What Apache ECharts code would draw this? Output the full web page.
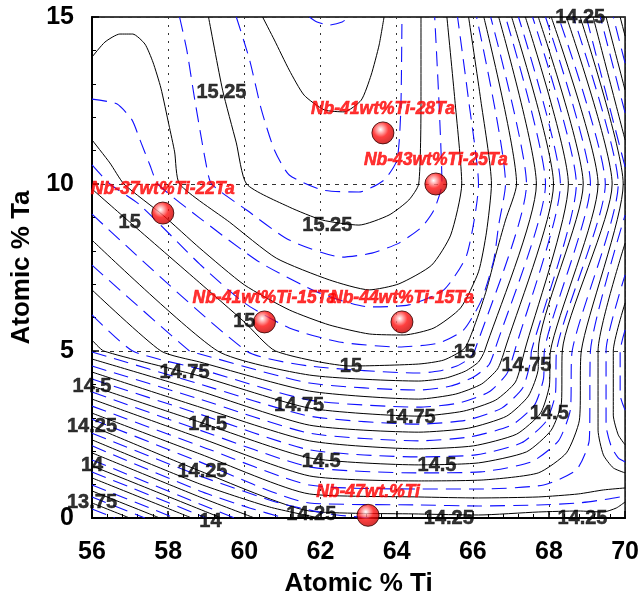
<!DOCTYPE html>
<html><head><meta charset="utf-8">
<script src="https://cdn.jsdelivr.net/npm/echarts@6/dist/echarts.min.js"></script>
<style>html,body{margin:0;padding:0;background:#fff}#c{width:642px;height:603px}</style>
</head><body><div id="c"></div>
<script>
// ---- axes ----
const xRange = [56, 70];
const yRange = [0, 15];

// ---- contour lines: [Atomic % Ti, Atomic % Ta] ----
// solid black contours
const blackInner = [[60.48,15],[60.79,14.31],[61.18,13.41],[61.57,12.66],[62.10,12.22],[62.62,12.16],[63.07,12.51],[63.33,13.26],[63.54,14.16],[63.67,15]];
const black00 = [[59.06,15],[59.43,12.81],[59.79,11.23],[60.06,10.0],[61.18,9.31],[62.05,8.92],[63.01,8.77],[63.80,9.07],[64.32,9.52],[64.58,10.0],[64.64,12.51],[64.64,15]];
const black02 = [[56,13.80],[56.34,14.25],[56.73,14.49],[57.07,14.49],[57.39,14.19],[57.60,13.65],[57.81,12.87],[58.02,11.77],[58.17,10.96],[58.30,10],[59.61,8.86],[60.84,7.78],[62.23,7.13],[63.28,6.83],[64.06,7.01],[64.92,7.57],[65.42,8.47],[65.71,10],[65.53,12.51],[65.32,15]];
const black04 = [[56,11.32],[56.47,10.63],[56.84,10],[57.86,9.07],[58.83,8.08],[60.00,6.98],[61.18,6.23],[62.23,5.78],[63.28,5.51],[64.19,5.48],[64.98,5.69],[65.68,6.29],[66.15,7.37],[66.36,8.56],[66.49,10],[66.21,12.51],[65.89,15]];
const black06 = [[56,9.85],[56.99,8.86],[58.83,7.04],[60.00,5.87],[60.82,5.0],[62.80,4.55],[64.58,4.61],[65.24,4.73],[65.79,5.09],[66.10,5.93],[66.36,6.83],[66.60,7.87],[66.86,8.92],[67.15,10],[66.29,15]];
const black08 = [[56,8.32],[59.30,5],[61.71,4.28],[64.58,4.10],[65.29,4.19],[65.81,4.40],[66.15,4.67],[66.31,5],[67.67,10],[66.68,15]];
const black10 = [[56,6.83],[57.81,5],[58.83,4.67],[61.71,3.80],[64.58,3.56],[65.55,3.71],[66.23,4.01],[66.65,4.46],[66.83,5],[68.12,10],[67.02,15]];
const black12 = [[56,5.33],[56.31,5],[58.83,4.25],[61.71,3.29],[64.58,3.05],[65.76,3.20],[66.60,3.53],[67.12,4.07],[67.36,5],[68.51,10],[67.38,15]];
const black14 = [[56,4.76],[58.83,3.80],[61.71,2.78],[64.58,2.57],[65.89,2.69],[66.89,3.05],[67.46,3.65],[67.72,4.49],[67.72,5],[68.90,10],[67.72,15]];
const black16 = [[56,4.37],[58.83,3.32],[61.71,2.31],[64.58,2.07],[66.02,2.16],[67.15,2.51],[67.78,3.14],[68.01,3.95],[68.04,5],[69.29,10],[68.06,15]];
const black18 = [[56,3.95],[58.83,2.87],[61.71,1.80],[64.58,1.59],[66.15,1.65],[67.41,1.98],[68.06,2.63],[68.33,3.47],[68.35,5],[69.66,10],[68.46,15]];
const black20 = [[56,3.56],[58.83,2.40],[61.71,1.26],[64.58,1.11],[66.29,1.14],[67.72,1.35],[68.46,1.95],[68.80,2.93],[68.85,5],[69.95,10],[68.82,15]];
const black22a = [[56,3.14],[58.83,1.92],[61.71,0.72],[64.58,0.63],[66.15,0.60],[67.72,0.63],[68.77,0.72],[69.43,0.84],[70,0.90]];
const black22b = [[70,1.35],[69.69,1.50],[69.43,1.89],[69.29,2.63],[69.29,5],[70,8.23]];
const black22c = [[70,11.32],[69.16,15]];
const black24a = [[56,2.75],[58.83,1.41],[61.71,0.21],[64.58,0.12],[66.15,0.09],[67.72,0.18],[68.77,0.21],[69.43,0.18],[69.77,0.30],[70,0.48]];
const black24b = [[70,2.19],[69.82,2.49],[69.69,3.08],[69.69,5],[70,6.44]];
const black24c = [[70,12.81],[69.50,15]];
const black26a = [[56,2.34],[58.83,1.02],[60.66,0.33],[61.97,0]];
const black26c = [[70,14.43],[69.87,15]];
const black28 = [[56,1.95],[58.83,0.63],[60.27,0]];
const black30 = [[56,1.56],[59.40,0]];
const black32 = [[56,1.20],[58.62,0]];
const black34 = [[56,0.81],[57.78,0]];
const black36 = [[56,0.45],[56.99,0]];

// dashed blue contours
const blueInner2 = [[61.71,15],[61.91,14.85],[62.23,14.76],[62.57,14.85],[62.75,15]];
const blueInner1 = [[59.79,15],[60.14,13.71],[60.45,12.22],[60.79,11.02],[61.18,10.27],[62.05,9.82],[63.01,9.76],[63.67,10.12],[64.01,10.72],[64.11,12.22],[64.14,15]];
const blue01 = [[58.30,15],[58.49,14.01],[58.70,12.51],[59.01,10.51],[59.14,10],[60.06,9.22],[61.18,8.32],[62.57,7.81],[63.35,7.93],[64.06,8.23],[64.66,8.71],[64.98,9.22],[65.19,10],[65.11,12.51],[65.00,15]];
const blue03 = [[56,12.54],[56.65,12.40],[57.05,11.92],[57.26,11.32],[57.52,10.57],[57.73,10],[58.83,8.98],[60.40,7.66],[61.97,6.74],[63.28,6.32],[64.32,6.38],[65.24,6.83],[65.84,7.87],[66.15,10],[65.89,12.51],[65.60,15]];
const blue05 = [[56,10.57],[56.47,10],[57.26,9.37],[58.83,7.60],[60.00,6.44],[61.18,5.69],[62.49,5.27],[64.06,5.12],[65.11,5.24],[65.76,5.63],[66.23,6.53],[66.55,7.72],[66.68,8.77],[66.86,10],[66.10,15]];
const blue07 = [[56,9.10],[60.06,5],[61.71,4.55],[64.58,4.34],[65.11,4.40],[65.58,4.55],[65.89,4.76],[66.05,5],[67.41,10],[66.47,15]];
const blue09 = [[56,7.57],[58.56,5],[58.83,4.91],[61.71,4.04],[64.58,3.83],[65.42,3.95],[66.02,4.22],[66.42,4.58],[66.57,5],[67.91,10],[66.86,15]];
const blue11 = [[56,6.08],[57.07,5],[58.83,4.46],[61.71,3.53],[64.58,3.32],[65.63,3.44],[66.42,3.77],[66.89,4.31],[67.10,5],[68.30,10],[67.20,15]];
const blue13 = [[56,4.97],[58.83,4.01],[61.71,3.05],[64.58,2.81],[65.84,2.93],[66.76,3.29],[67.31,3.89],[67.52,4.70],[67.54,5],[68.72,10],[67.57,15]];
const blue15 = [[56,4.55],[58.83,3.56],[61.71,2.54],[64.58,2.31],[65.94,2.43],[67.02,2.78],[67.62,3.38],[67.86,4.19],[67.88,5],[69.09,10],[67.91,15]];
const blue17 = [[56,4.16],[58.83,3.11],[61.71,2.04],[64.58,1.83],[66.08,1.89],[67.28,2.25],[67.93,2.90],[68.17,3.71],[68.20,5],[69.48,10],[68.25,15]];
const blue19 = [[56,3.77],[58.83,2.63],[61.71,1.53],[64.58,1.35],[66.21,1.38],[67.54,1.68],[68.25,2.31],[68.56,3.23],[68.61,5],[69.82,10],[68.64,15]];
const blue21a = [[56,3.35],[58.83,2.16],[61.71,0.99],[64.58,0.87],[66.29,0.87],[67.86,0.99],[68.72,1.44],[69.06,2.34],[69.09,5],[70,9.07]];
const blue21b = [[70,10.51],[68.98,15]];
const blue23a = [[56,2.96],[58.83,1.68],[61.71,0.45],[64.58,0.39],[66.15,0.36],[67.72,0.39],[68.77,0.45],[69.56,0.57],[70,0.66]];
const blue23b = [[70,1.68],[69.82,1.80],[69.64,2.13],[69.50,2.78],[69.50,5],[70,7.28]];
const blue23c = [[70,12.13],[69.35,15]];
const blue25a = [[56,2.54],[58.83,1.26],[60.92,0.45],[62.23,0.12],[63.28,0]];
const blue25b = [[70,5.63],[69.87,5],[69.87,3.68],[70,3.23]];
const blue25c = [[70,13.62],[69.69,15]];
const blue27 = [[56,2.16],[58.83,0.81],[60.14,0.30],[61.05,0]];
const blue29 = [[56,1.74],[58.83,0.42],[59.74,0]];
const blue31 = [[56,1.38],[59.01,0]];
const blue33 = [[56,0.99],[58.17,0]];
const blue35 = [[56,0.63],[57.39,0]];
const blue37 = [[56,0.27],[56.60,0]];

const solidContours = [blackInner, black00, black02, black04, black06, black08, black10, black12, black14, black16, black18, black20,
  black22a, black22b, black22c, black24a, black24b, black24c, black26a, black26c, black28, black30, black32, black34, black36];
const dashedContours = [blueInner2, blueInner1, blue01, blue03, blue05, blue07, blue09, blue11, blue13, blue15, blue17, blue19,
  blue21a, blue21b, blue23a, blue23b, blue23c, blue25a, blue25b, blue25c, blue27, blue29, blue31, blue33, blue35, blue37];

// contour value labels: [Ti, Ta, text]
const contourLabels = [
  [59.40,12.75,'15.25'],[62.18,8.77,'15.25'],
  [56.99,8.86,'15'],[60.00,5.87,'15'],[62.80,4.55,'15'],[65.79,4.97,'15'],
  [58.43,4.37,'14.75'],[61.44,3.38,'14.75'],[64.37,3.02,'14.75'],[67.41,4.58,'14.75'],
  [56.0,3.95,'14.5'],[59.04,2.81,'14.5'],[62.02,1.68,'14.5'],[65.06,1.56,'14.5'],[68.01,3.14,'14.5'],
  [56.0,2.75,'14.25'],[58.90,1.38,'14.25'],[61.76,0.12,'14.25'],[65.37,0.0,'14.25'],[68.88,0.0,'14.25'],[68.82,15.0,'14.25'],
  [56.0,1.56,'14'],[59.11,-0.1,'14'],
  [56.0,0.45,'13.75']
];

// alloy compositions: [Ti, Ta, name]
const alloyTi = [57.86, 63.64, 65.03, 60.53, 64.14, 63.25];
const alloyTa = [9.13, 11.53, 10.0, 5.87, 5.87, 0.08];
const alloyNames = ['Nb-37wt%Ti-22Ta','Nb-41wt%Ti-28Ta','Nb-43wt%Ti-25Ta','Nb-41wt%Ti-15Ta','Nb-44wt%Ti-15Ta','Nb-47wt.%Ti'];

// ---- build chart ----
const FONT = '"Liberation Sans", Arial, sans-serif';
const series = [];
solidContours.forEach(d => series.push({
  type:'line', data:d, smooth:0.2, showSymbol:false, silent:true, z:2,
  lineStyle:{color:'#000', width:1}
}));
dashedContours.forEach(d => series.push({
  type:'line', data:d, smooth:0.2, showSymbol:false, silent:true, z:2,
  lineStyle:{color:'#1010ff', width:1.1, type:[15,8]}
}));
series.push({
  type:'scatter', z:6, silent:true, clip:false, symbolSize:1,
  itemStyle:{color:'rgba(0,0,0,0)'},
  data: contourLabels.map(p => ({value:[p[0],p[1]], name:p[2]})),
  label:{show:true, position:'inside', formatter:p=>p.name, color:'#000', fontFamily:FONT, fontWeight:'bold', fontSize:20,
    textBorderColor:'#000', textBorderWidth:0.5}
});
series.push({
  type:'scatter', z:5, silent:true, clip:false, symbolSize:22,
  data: alloyTi.map((x,i)=>({value:[x, alloyTa[i]], name:alloyNames[i]})),
  itemStyle:{
    color:{type:'radial', x:0.4, y:0.35, r:0.75, colorStops:[
      {offset:0, color:'#ffffff'},{offset:0.18, color:'#ffa0a0'},{offset:0.45, color:'#ff1010'},
      {offset:0.85, color:'#c80000'},{offset:1, color:'#5a0000'}]},
    borderColor:'#300000', borderWidth:1
  },
  label:{show:true, position:'top', distance:3, formatter:p=>p.name, color:'#ff0000',
    fontFamily:FONT, fontWeight:'bold', fontStyle:'italic', fontSize:17.5,
    textBorderColor:'#ff0000', textBorderWidth:0.6}
});

const axisText = {fontFamily:FONT, fontWeight:'bold', fontSize:25, color:'#000'};
const option = {
  animation:false,
  backgroundColor:'#fff',
  grid:{left:92, right:15, top:17, bottom:85, show:true, borderColor:'#000', borderWidth:1.5, backgroundColor:'transparent'},
  xAxis:{
    type:'value', min:xRange[0], max:xRange[1], interval:2,
    name:'Atomic % Ti', nameLocation:'middle', nameGap:53,
    nameTextStyle:{fontFamily:FONT, fontWeight:'bold', fontSize:26, color:'#000'},
    axisLine:{show:true, onZero:false, lineStyle:{color:'#000', width:2}},
    axisTick:{show:true, inside:true, length:7, lineStyle:{color:'#000', width:1.5}},
    minorTick:{show:true, splitNumber:5, length:4, lineStyle:{color:'#000', width:1}},
    axisLabel:Object.assign({margin:22}, axisText),
    splitLine:{show:true, lineStyle:{color:'#333', width:1, type:[2,6]}}
  },
  yAxis:{
    type:'value', min:yRange[0], max:yRange[1], interval:5,
    name:'Atomic % Ta', nameLocation:'middle', nameGap:57,
    nameTextStyle:{fontFamily:FONT, fontWeight:'bold', fontSize:26, color:'#000'},
    axisLine:{show:true, onZero:false, lineStyle:{color:'#000', width:2}},
    axisTick:{show:true, inside:true, length:7, lineStyle:{color:'#000', width:1.5}},
    minorTick:{show:true, splitNumber:5, length:4, lineStyle:{color:'#000', width:1}},
    axisLabel:Object.assign({margin:18}, axisText),
    splitLine:{show:true, lineStyle:{color:'#333', width:1, type:[4,5]}}
  },
  series: series
};
const chart = echarts.init(document.getElementById('c'), null, {renderer:'canvas'});
chart.setOption(option);
</script>
</body></html>
